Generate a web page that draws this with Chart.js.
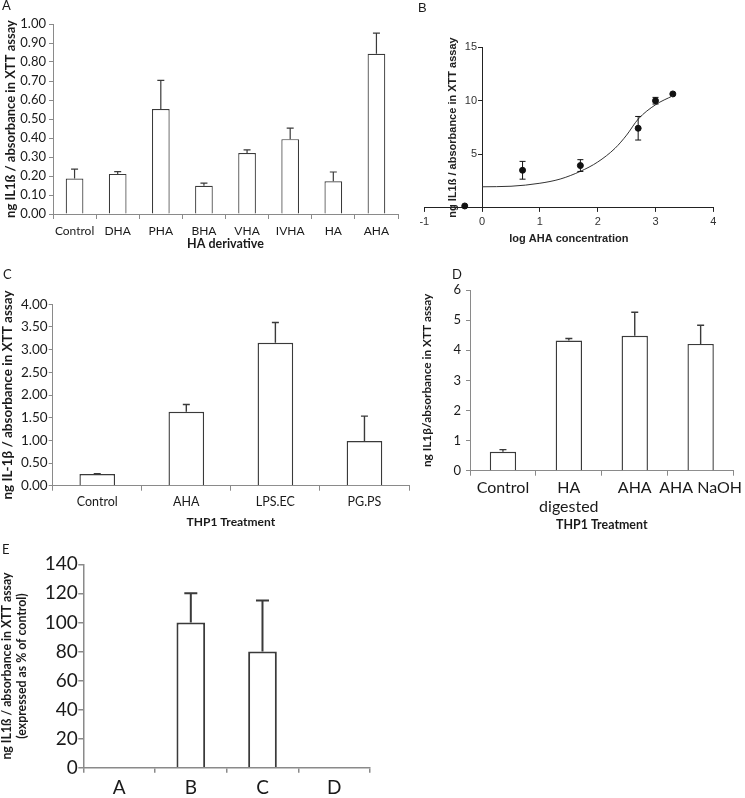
<!DOCTYPE html>
<html>
<head>
<meta charset="utf-8">
<script src="https://cdn.jsdelivr.net/npm/chart.js@4.4.1/dist/chart.umd.min.js"></script>
<style>
  html, body { margin: 0; padding: 0; background: #fff; overflow: hidden; }
  #wrap { position: relative; width: 745px; height: 798px; }
  canvas { position: absolute; }
  .lbl { position: absolute; font-family: Lato, sans-serif; font-size: 13px; line-height: 1; color: #1a1a1a; }
</style>
</head>
<body>
<div id="wrap">
  <canvas id="chartA" width="420" height="255" style="left:0;top:0"></canvas>
  <canvas id="chartB" width="345" height="255" style="left:400px;top:0"></canvas>
  <canvas id="chartC" width="420" height="275" style="left:0;top:255px"></canvas>
  <canvas id="chartD" width="345" height="280" style="left:400px;top:255px"></canvas>
  <canvas id="chartE" width="400" height="268" style="left:0;top:530px"></canvas>
  <div class="lbl" style="left:2px;top:-1px">A</div>
  <div class="lbl" style="left:418px;top:1px;font-family:'Liberation Sans',sans-serif">B</div>
  <div class="lbl" style="left:3px;top:268px">C</div>
  <div class="lbl" style="left:452px;top:268px">D</div>
  <div class="lbl" style="left:2px;top:543px">E</div>
</div>
<script>
// panel A - HA derivatives
const catsA = ['Control', 'DHA', 'PHA', 'BHA', 'VHA', 'IVHA', 'HA', 'AHA'];
const valsA = [0.187, 0.211, 0.553, 0.149, 0.321, 0.394, 0.172, 0.843];
const errA = [0.049, 0.012, 0.150, 0.014, 0.016, 0.058, 0.049, 0.109];

// panel B - dose response (log AHA concentration)
const logAHA = [-0.3, 0.7, 1.7, 2.7, 3.0, 3.3];
const valsB = [0.18, 3.51, 3.95, 7.43, 10.0, 10.63];
const errB = [0, 0.83, 0.55, 1.1, 0.31, 0];
// fitted curve
const fitX = [0, 0.5, 1.0, 1.35, 1.7, 2.0, 2.3, 2.5, 2.7, 3.0, 3.3];
const fitY = [1.97, 2.02, 2.3, 2.69, 3.41, 4.28, 5.56, 6.79, 8.28, 9.62, 10.46];

// panel C - THP1 treatment
const catsC = ['Control', 'AHA', 'LPS.EC', 'PG.PS'];
const valsC = [0.257, 1.63, 3.15, 0.985];
const errC = [0.01, 0.16, 0.45, 0.55];

// panel D - THP1 treatment
const catsD = ['Control', ['HA', 'digested'], 'AHA', 'AHA NaOH'];
const valsD = [0.63, 4.32, 4.48, 4.21];
const errD = [0.07, 0.07, 0.78, 0.62];

// panel E - % of control
const catsE = ['A', 'B', 'C', 'D'];
const valsE = [0, 100, 80, 0];
const errE = [0, 20, 35, 0];

const textCol = '#1a1a1a';
const axisLine = '#8a8a8a';
const barLine = '#3a3a3a';

Chart.defaults.font.family = 'Lato, sans-serif';
Chart.defaults.color = textCol;

// draws error bars from dataset.errors through the y scale
const errorBars = {
    id: 'errorBars',
    afterDatasetsDraw(chart) {
        const ctx = chart.ctx;
        chart.data.datasets.forEach((ds, i) => {
            if (!ds.errors) return;
            const meta = chart.getDatasetMeta(i);
            const yScale = chart.scales[meta.yAxisID];
            meta.data.forEach((el, j) => {
                const err = ds.errors[j];
                if (!err) return;
                const d = ds.data[j];
                const v = (typeof d === 'object') ? d.y : d;
                const top = yScale.getPixelForValue(v + err);
                const bot = ds.errBoth ? yScale.getPixelForValue(v - err) : el.y;
                const half = ds.capWidth / 2;
                ctx.save();
                ctx.strokeStyle = ds.errColor;
                ctx.lineWidth = ds.errWidth;
                ctx.beginPath();
                ctx.moveTo(el.x, bot);
                ctx.lineTo(el.x, top);
                ctx.moveTo(el.x - half, top);
                ctx.lineTo(el.x + half, top);
                if (ds.errBoth) {
                    ctx.moveTo(el.x - half, bot);
                    ctx.lineTo(el.x + half, bot);
                }
                ctx.stroke();
                ctx.restore();
            });
        });
    }
};

function barPanel(id, cats, vals, errs, c) {
    return new Chart(document.getElementById(id), {
        type: 'bar',
        data: {
            labels: cats,
            datasets: [{
                data: vals,
                errors: errs,
                backgroundColor: '#ffffff',
                borderColor: barLine,
                borderWidth: c.lw,
                barPercentage: c.barPct,
                categoryPercentage: 1,
                errColor: barLine,
                errWidth: c.lw,
                capWidth: c.cap
            }]
        },
        options: {
            responsive: false,
            animation: false,
            layout: { padding: c.pad },
            plugins: { legend: { display: false }, tooltip: { enabled: false } },
            scales: {
                x: {
                    grid: { drawOnChartArea: false, color: axisLine, lineWidth: c.axW, tickLength: 5 },
                    border: { color: axisLine, width: c.axW },
                    ticks: { font: { size: c.xFont }, padding: c.xPad, maxRotation: 0, autoSkip: false },
                    title: {
                        display: !!c.xTitle,
                        text: c.xTitle || '',
                        font: { size: c.xTitleSize, weight: 'bold' },
                        padding: { top: 0, bottom: c.xTitlePad }
                    },
                    afterFit: s => { s.height = c.xH; }
                },
                y: {
                    min: 0,
                    max: c.yMax,
                    grid: { drawOnChartArea: false, color: axisLine, lineWidth: c.axW, tickLength: c.yTick },
                    border: { color: axisLine, width: c.axW },
                    ticks: { stepSize: c.step, font: { size: c.yFont }, padding: c.yPad, callback: c.fmt },
                    title: {
                        display: true,
                        text: c.yTitle,
                        font: { size: c.yTitleSize, weight: 'bold' },
                        padding: { top: c.yTitlePad, bottom: 0 }
                    },
                    afterFit: s => { s.width = c.yW; }
                }
            }
        },
        plugins: [errorBars]
    });
}

const fmt2 = v => v.toFixed(2);
const fmt0 = v => String(v);

barPanel('chartA', catsA, valsA, errA, {
    pad: { left: 0, top: 24, right: 22, bottom: 0 }, yW: 53, xH: 41,
    yMax: 1, step: 0.1, fmt: fmt2, lw: 1.2, axW: 1, barPct: 0.41, cap: 7,
    xFont: 12, xPad: 4.5, yFont: 13, yPad: 3, yTick: 4,
    yTitle: 'ng IL1ß / absorbance in XTT assay', yTitleSize: 13, yTitlePad: 3.2,
    xTitle: 'HA derivative', xTitleSize: 12.5, xTitlePad: 3.5
});

barPanel('chartC', catsC, valsC, errC, {
    pad: { left: 0, top: 49.3, right: 11, bottom: 0 }, yW: 52.7, xH: 44.3,
    yMax: 4, step: 0.5, fmt: fmt2, lw: 1.4, axW: 1, barPct: 0.4, cap: 7,
    xFont: 12.5, xPad: 3.5, yFont: 13.5, yPad: 1, yTick: 4,
    yTitle: 'ng IL-1β / absorbance in XTT assay', yTitleSize: 13.5, yTitlePad: 0,
    xTitle: 'THP1 Treatment', xTitleSize: 12, xTitlePad: 1.1
});

barPanel('chartD', catsD, valsD, errD, {
    pad: { left: 0, top: 35, right: 2.3, bottom: 0 }, yW: 70, xH: 64.3,
    yMax: 6, step: 1, fmt: fmt0, lw: 1.4, axW: 1, barPct: 0.4, cap: 7,
    xFont: 16, xPad: 2.7, yFont: 13, yPad: 5, yTick: 4,
    yTitle: 'ng IL1β/absorbance in XTT assay', yTitleSize: 11.8, yTitlePad: 19.9,
    xTitle: 'THP1 Treatment', xTitleSize: 12.4, xTitlePad: 3
});

barPanel('chartE', catsE, valsE, errE, {
    pad: { left: 0, top: 34.3, right: 30, bottom: 0 }, yW: 83.3, xH: 30.3,
    yMax: 140, step: 20, fmt: fmt0, lw: 2, axW: 1.5, barPct: 0.4, cap: 13,
    xFont: 19, xPad: 3.9, yFont: 19, yPad: 0.5, yTick: 5,
    yTitle: ['ng IL1ß / absorbance in XTT assay', '(expressed as % of control)'], yTitleSize: 12.3, yTitlePad: 0,
    xTitle: '', xTitleSize: 12, xTitlePad: 0
});

// panel B: scatter with error bars and a fitted curve
const arial = "'Liberation Sans', Arial, sans-serif";
new Chart(document.getElementById('chartB'), {
    type: 'scatter',
    data: {
        datasets: [{
            type: 'line',
            data: fitX.map((x, i) => ({ x: x, y: fitY[i] })),
            borderColor: '#333333',
            borderWidth: 1,
            pointRadius: 0,
            fill: false,
            cubicInterpolationMode: 'monotone'
        }, {
            data: logAHA.map((x, i) => ({ x: x, y: valsB[i] })),
            errors: errB,
            errBoth: true,
            errColor: '#111111',
            errWidth: 1,
            capWidth: 6,
            pointRadius: 3,
            backgroundColor: '#111111',
            borderColor: '#111111',
            clip: false
        }]
    },
    options: {
        responsive: false,
        animation: false,
        layout: { padding: { left: 0, top: 16, right: 31.7, bottom: 0 } },
        plugins: { legend: { display: false }, tooltip: { enabled: false } },
        scales: {
            x: {
                type: 'linear',
                position: 'bottom',
                min: -1,
                max: 4,
                grid: { drawOnChartArea: false, color: '#222', tickLength: 4 },
                border: { color: '#222' },
                ticks: { stepSize: 1, font: { family: arial, size: 11 }, color: '#333', padding: 3 },
                title: {
                    display: true,
                    text: 'log AHA concentration',
                    font: { family: arial, size: 11, weight: 'bold' },
                    color: '#222',
                    padding: { top: 0, bottom: 9 }
                },
                afterFit: s => { s.height = 46.7; }
            },
            // left scale carries the title and the labels; mirrored labels sit next to x = 0
            y: {
                min: 0,
                max: 15,
                position: 'left',
                grid: { display: false, drawTicks: false },
                border: { display: false },
                ticks: {
                    stepSize: 5,
                    mirror: true,
                    crossAlign: 'far',
                    padding: 40.5,
                    font: { family: arial, size: 11 },
                    color: '#333',
                    callback: v => (v === 0 ? '' : String(v))
                },
                title: {
                    display: true,
                    text: 'ng IL1ß / absorbance in XTT assay',
                    font: { family: arial, size: 11, weight: 'bold' },
                    color: '#222',
                    padding: { top: 46, bottom: 0 }
                },
                afterFit: s => { s.width = 24.3; }
            },
            // axis line and tick marks at x = 0
            y2: {
                type: 'linear',
                position: { x: 0 },
                min: 0,
                max: 15,
                grid: { drawOnChartArea: false, color: '#222', tickLength: 4 },
                border: { color: '#222' },
                ticks: { stepSize: 5, display: false },
                afterFit: s => { s.width = 0; }
            }
        }
    },
    plugins: [errorBars]
});
</script>
</body>
</html>
